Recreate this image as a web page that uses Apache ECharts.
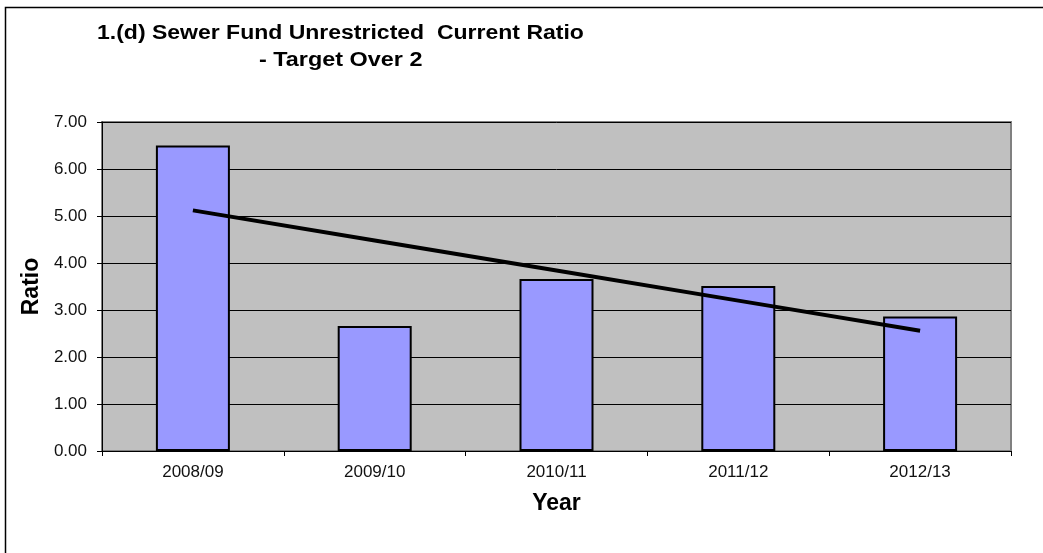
<!DOCTYPE html>
<html><head><meta charset="utf-8">
<script src="https://cdn.jsdelivr.net/npm/echarts@6/dist/echarts.min.js"></script>
<style>html,body{margin:0;padding:0;background:#fff;}#c{width:1043px;height:553px;}</style>
</head><body><div id="c"></div>
<script>
const categories = ['2008/09', '2009/10', '2010/11', '2011/12', '2012/13'];
const ratioValues = [6.50, 2.66, 3.66, 3.51, 2.86];
const trendValues = [5.12, 4.48, 3.84, 3.20, 2.56];
const yTicks = { min: 0, max: 7, interval: 1 };
const titleLines = ['1.(d) Sewer Fund Unrestricted  Current Ratio', '- Target Over 2'];

const chart = echarts.init(document.getElementById('c'));
const font = '"Liberation Sans", Arial, sans-serif';
chart.setOption({
  animation: false,
  backgroundColor: '#fff',
  graphic: [
    { type: 'rect', x: 0, y: 0, shape: { x: 5.5, y: 7.5, width: 1100, height: 600 }, silent: true,
      style: { fill: 'none', stroke: '#000', lineWidth: 1.5 }, z: 100 },
    { type: 'text', x: 97, y: 33.5, scaleX: 1.15, silent: true,
      style: { text: titleLines[0], x: 0, y: 0, font: 'bold 20px ' + font, fill: '#000',
               textAlign: 'left', textVerticalAlign: 'middle' } },
    { type: 'text', x: 259, y: 60.5, scaleX: 1.17, silent: true,
      style: { text: titleLines[1], x: 0, y: 0, font: 'bold 20px ' + font, fill: '#000',
               textAlign: 'left', textVerticalAlign: 'middle' } }
  ],
  grid: { left: 102, top: 122, right: 32, bottom: 102, show: true,
          backgroundColor: '#c0c0c0', borderColor: '#808080', borderWidth: 2 },
  xAxis: {
    type: 'category', data: categories,
    name: 'Year', nameLocation: 'middle', nameGap: 41,
    nameTextStyle: { fontFamily: font, fontWeight: 'bold', fontSize: 23, color: '#000' },
    axisLine: { lineStyle: { color: '#000', width: 1 } },
    axisTick: { show: true, length: 5, lineStyle: { color: '#000' } },
    axisLabel: { fontFamily: font, fontSize: 17, color: '#111', margin: 13 }
  },
  yAxis: {
    type: 'value', min: yTicks.min, max: yTicks.max, interval: yTicks.interval,
    name: 'Ratio', nameLocation: 'middle', nameGap: 57, nameRotate: 90,
    nameTextStyle: { fontFamily: font, fontWeight: 'bold', fontSize: 23, color: '#000' },
    axisLine: { show: true, lineStyle: { color: '#000', width: 1 } },
    axisTick: { show: true, length: 5, lineStyle: { color: '#000' } },
    axisLabel: { fontFamily: font, fontSize: 17, color: '#111', margin: 15,
                 formatter: v => v.toFixed(2) },
    splitLine: { lineStyle: { color: '#000', width: 1 } }
  },
  series: [
    { type: 'bar', data: ratioValues, barWidth: 74,
      itemStyle: { color: '#9999ff', borderColor: '#000', borderWidth: 2 } },
    { type: 'line', data: trendValues, symbol: 'none',
      lineStyle: { color: '#000', width: 4 }, z: 5 }
  ]
});
</script></body></html>
